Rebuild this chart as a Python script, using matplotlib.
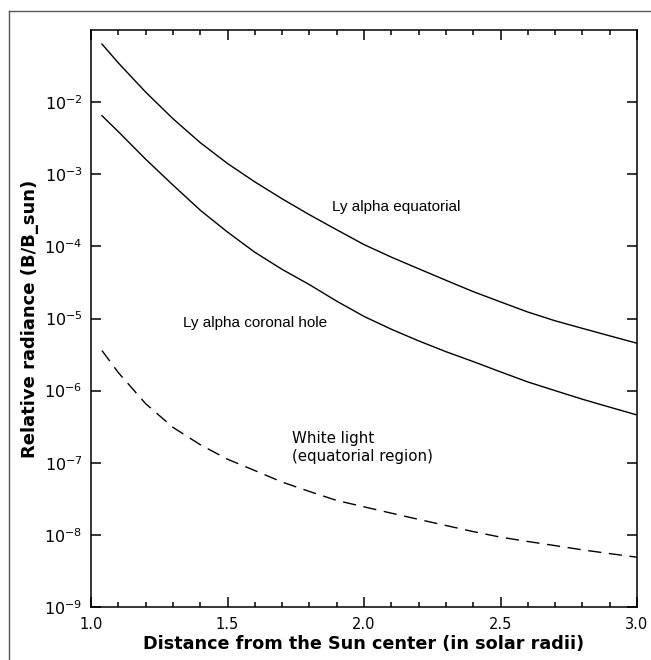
import matplotlib
matplotlib.use("Agg")
import matplotlib.pyplot as plt
from matplotlib.lines import Line2D
from matplotlib.ticker import MultipleLocator, NullLocator

"""
Relative radiance vs distance from the Sun center
"""

# distance from the Sun center, in solar radii
distance = [1.04, 1.1, 1.2, 1.3, 1.4, 1.5, 1.6, 1.7, 1.8, 1.9, 2.0,
            2.1, 2.2, 2.3, 2.4, 2.5, 2.6, 2.7, 2.8, 2.9, 3.0]

# Ly alpha, equatorial
ly_equatorial = [6.4e-2, 3.5e-2, 1.38e-2, 5.9e-3, 2.75e-3, 1.41e-3, 7.85e-4,
                 4.57e-4, 2.75e-4, 1.70e-4, 1.06e-4, 7.1e-5, 4.9e-5, 3.39e-5,
                 2.36e-5, 1.70e-5, 1.23e-5, 9.3e-6, 7.3e-6, 5.75e-6, 4.54e-6]

# Ly alpha, coronal hole
ly_coronal_hole = [6.5e-3, 3.9e-3, 1.62e-3, 7.1e-4, 3.18e-4, 1.58e-4, 8.3e-5,
                   4.8e-5, 2.95e-5, 1.74e-5, 1.07e-5, 7.1e-6, 4.9e-6, 3.47e-6,
                   2.53e-6, 1.82e-6, 1.32e-6, 1.0e-6, 7.6e-7, 5.9e-7, 4.6e-7]

# white light, equatorial region
white_light = [3.6e-6, 1.78e-6, 6.6e-7, 3.1e-7, 1.78e-7, 1.12e-7, 7.8e-8,
               5.4e-8, 4.0e-8, 3.0e-8, 2.45e-8, 2.0e-8, 1.64e-8, 1.35e-8,
               1.11e-8, 9.3e-9, 8.1e-9, 7.1e-9, 6.2e-9, 5.5e-9, 4.9e-9]

y_exponents = [-9, -8, -7, -6, -5, -4, -3, -2]
x_ticks = [1.0, 1.5, 2.0, 2.5, 3.0]

fig = plt.figure(figsize=(6.51, 6.60), dpi=100)
ax = fig.add_axes([0.1398, 0.0803, 0.8387, 0.8742])

# Curves
ax.plot(distance, ly_equatorial, color='black', lw=1.0)
ax.plot(distance, ly_coronal_hole, color='black', lw=1.0)
ax.plot(distance, white_light, color='black', lw=1.0, dashes=(9.5, 5.5))

ax.set_yscale('log')
ax.set_xlim(1.0, 3.0)
ax.set_ylim(1e-9, 1e-1)

# Ticks
ax.set_xticks(x_ticks)
ax.set_xticklabels(['%.1f' % t for t in x_ticks])
ax.xaxis.set_minor_locator(MultipleLocator(0.1))
ax.set_yticks([10.0 ** e for e in y_exponents])
ax.set_yticklabels(['$10^{%d}$' % e for e in y_exponents])
ax.yaxis.set_minor_locator(NullLocator())
ax.tick_params(which='both', direction='in', top=True, right=True,
               width=1.1, color='black')
ax.tick_params(which='major', length=7.5)
ax.tick_params(which='minor', length=3.5)
ax.tick_params(axis='x', labelsize=10.5, pad=7)
ax.tick_params(axis='y', labelsize=11.5, pad=6)
for spine in ax.spines.values():
    spine.set_linewidth(1.1)

# Axis labels
ax.set_xlabel('Distance from the Sun center (in solar radii)',
              fontsize=12.7, fontweight='bold', labelpad=2)
ax.set_ylabel('Relative radiance (B/B_sun)',
              fontsize=13, fontweight='bold', labelpad=4)

# Curve annotations
ax.text(1.883, 3.5e-4, 'Ly alpha equatorial', fontsize=11,
        family='Liberation Sans', va='center', ha='left')
ax.text(1.337, 8.7e-6, 'Ly alpha coronal hole', fontsize=11,
        family='Liberation Sans', va='center', ha='left')
ax.text(1.736, 1.63e-7, 'White light\n(equatorial region)', fontsize=10.8,
        va='center', ha='left', linespacing=1.25)

# outer frame of the scanned figure
fig.add_artist(Line2D([9 / 651, 1.0], [1 - 11 / 660, 1 - 11 / 660],
                      transform=fig.transFigure, color='#555555', lw=1.0))
fig.add_artist(Line2D([9 / 651, 9 / 651], [0.0, 1 - 11 / 660],
                      transform=fig.transFigure, color='#555555', lw=1.0))

fig.savefig('out.png', dpi=100)
